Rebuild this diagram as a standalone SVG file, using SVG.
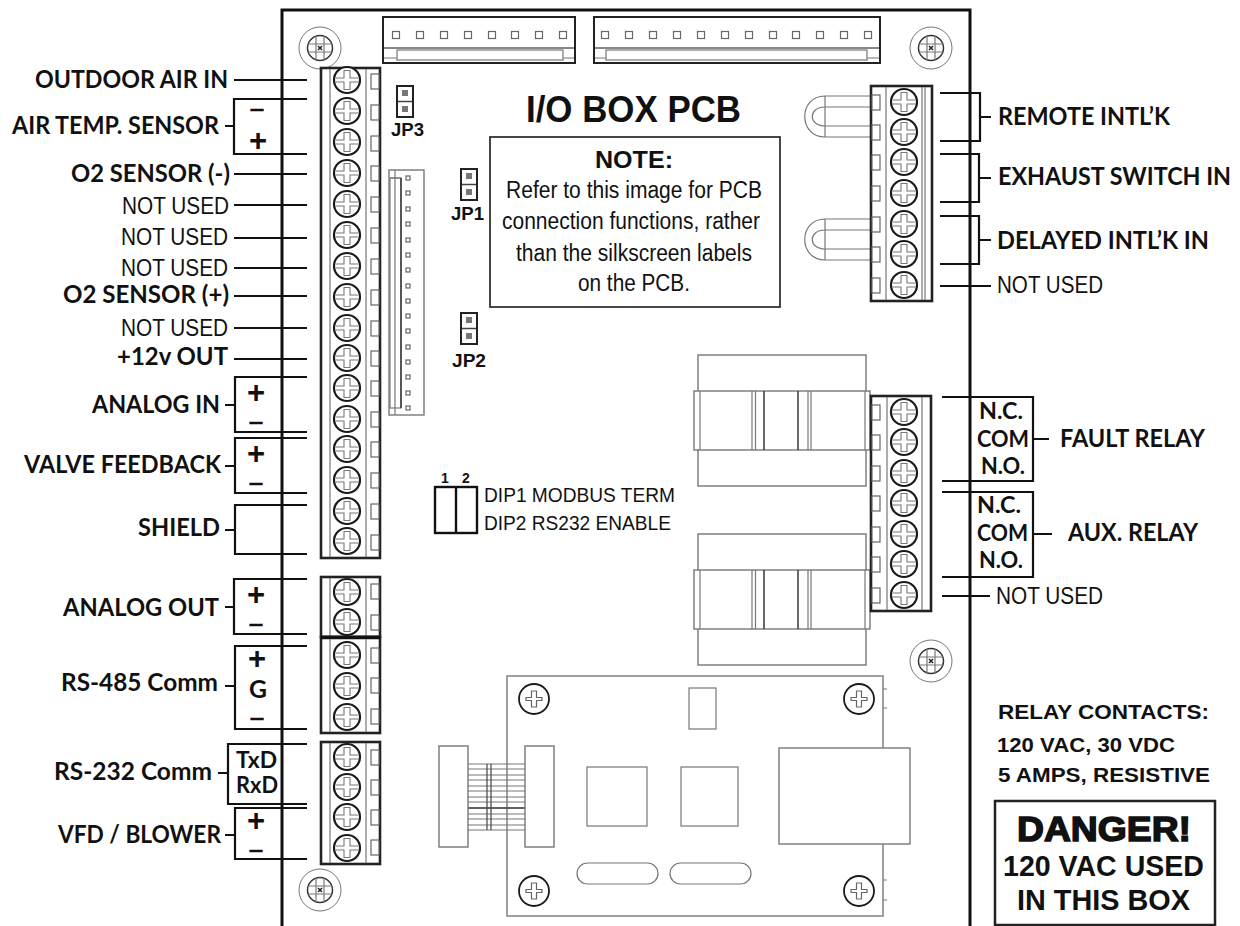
<svg xmlns="http://www.w3.org/2000/svg" width="1240" height="926" viewBox="0 0 1240 926">
<style>
text{fill:#111}
.b{font-family:Lato,"Open Sans",sans-serif;font-weight:700;font-size:24px}
.s{font-family:Lato,"Open Sans",sans-serif;font-weight:700;font-size:22px}
.r{font-family:"Liberation Sans",Arial,sans-serif;font-size:24.500px}
.h{font-family:"Liberation Sans",Arial,sans-serif;font-weight:700}
.n{font-family:"Liberation Sans",Arial,sans-serif;font-size:23px}
.d{font-family:"Liberation Sans",Arial,sans-serif;font-size:20.500px}
.pl{font-family:"Liberation Sans",Arial,sans-serif;font-weight:700;font-size:31px;text-anchor:middle}
.mi{font-family:"Liberation Sans",Arial,sans-serif;font-weight:700;font-size:20px;text-anchor:middle;stroke:#111;stroke-width:.6}
.g{fill:none;stroke:#777;stroke-width:1.2}
.gw{fill:#fff;stroke:#777;stroke-width:1.4}
.k{fill:none;stroke:#111;stroke-width:2.4}
.kw{fill:#fff;stroke:#222;stroke-width:2.6}
.thin{fill:#fff;stroke:#222;stroke-width:2}
.c{fill:none;stroke:#111;stroke-width:2.2}
.sm{fill:#fff;stroke:#666;stroke-width:1.2}
</style>
<defs>
<g id="screw"><circle r="13" fill="#fff" stroke="#1a1a1a" stroke-width="2.2"/><path d="M-11.500,-2H-3V-9.500H3V-2H11.500M-11.500,2H-3V9.500H3V2H11.500" fill="none" stroke="#777" stroke-width="1.100"/></g>
<g id="standoff"><circle r="21" fill="#fff" stroke="#777" stroke-width="1"/><circle r="12.500" fill="#fff" stroke="#333" stroke-width="1.500"/><path d="M-12,-4H12M-12,4H12M-4,-12V12M4,-12V12" class="g"/><path d="M-2,-2L2,2M2,-2L-2,2" stroke="#222" stroke-width="1.500"/></g>
<g id="bscrew"><circle r="15" fill="#fff" stroke="#1a1a1a" stroke-width="1.800"/><path d="M-8,-1.500H-2.500V-8H2.500V-1.500H8V1.500H2.500V8H-2.500V1.500H-8Z" fill="none" stroke="#666" stroke-width="1.200"/></g>
<rect id="pin" width="8" height="15" class="sm"/>
<rect id="dot" x="-3.500" y="-3.500" width="7" height="7" class="sm"/>
<rect id="vdot" x="-2" y="-2" width="4" height="4" class="sm"/>
<g id="jumper"><rect width="16" height="31" fill="#fff" stroke="#222" stroke-width="2"/><path d="M1,15.500H15" stroke="#444" stroke-width="1.500"/><rect x="5" y="4" width="6" height="6" fill="#777"/><rect x="5" y="20" width="6" height="6" fill="#777"/></g>
<path id="loop" d="M871,0H825C798,0 798,41 825,41H871M871,11H825C808,11 808,30 825,30H871M825,0V41" class="g"/>
<g id="relay"><rect x="698" y="0" width="168" height="131" class="gw"/><rect x="694" y="36" width="176" height="59" class="gw"/><path d="M700,36V95M752,36V95M755.500,36V95M808,36V95M811,36V95M865,36V95" class="g"/><path d="M764,36V95M798,36V95" fill="none" stroke="#444" stroke-width="1.600"/></g>
</defs>

<g id="board"><path d="M282,926V10H970V926" fill="none" stroke="#111" stroke-width="3"/></g>

<g id="standoffs">
<use href="#standoff" x="320" y="48"/><use href="#standoff" x="931" y="48"/><use href="#standoff" x="931" y="661"/><use href="#standoff" x="320" y="890"/>
</g>

<g id="connector-top-a">
<rect x="383" y="17" width="192" height="46" class="thin"/>
<path d="M384,48H574" stroke="#888" stroke-width="2"/>
<rect x="397" y="50" width="166" height="10" class="g"/>
<path d="M384,58H397M563,58H574" class="g"/>
<use href="#dot" x="396" y="35"/><use href="#dot" x="420" y="35"/><use href="#dot" x="444" y="35"/><use href="#dot" x="468" y="35"/><use href="#dot" x="492" y="35"/><use href="#dot" x="515" y="35"/><use href="#dot" x="539" y="35"/><use href="#dot" x="563" y="35"/>
</g>
<g id="connector-top-b">
<rect x="594" y="17" width="286" height="46" class="thin"/>
<path d="M595,48H879" stroke="#888" stroke-width="2"/>
<rect x="606" y="50" width="261" height="10" class="g"/>
<path d="M595,58H606M867,58H879" class="g"/>
<use href="#dot" x="605" y="35"/><use href="#dot" x="629" y="35"/><use href="#dot" x="653" y="35"/><use href="#dot" x="677" y="35"/><use href="#dot" x="701" y="35"/><use href="#dot" x="725" y="35"/><use href="#dot" x="749" y="35"/><use href="#dot" x="773" y="35"/><use href="#dot" x="796" y="35"/><use href="#dot" x="820" y="35"/><use href="#dot" x="844" y="35"/><use href="#dot" x="868" y="35"/>
</g>

<g id="connector-side">
<rect x="389" y="170" width="35" height="245" class="gw"/>
<rect x="390" y="178" width="11" height="230" class="g"/>
<path d="M395,170V415M390,178H401" class="g"/>
<path d="M401,178V408" stroke="#555" stroke-width="2"/>
<use href="#vdot" x="408" y="178"/><use href="#vdot" x="408" y="193"/><use href="#vdot" x="408" y="209"/><use href="#vdot" x="408" y="224"/><use href="#vdot" x="408" y="240"/><use href="#vdot" x="408" y="255"/><use href="#vdot" x="408" y="270"/><use href="#vdot" x="408" y="286"/><use href="#vdot" x="408" y="301"/><use href="#vdot" x="408" y="316"/><use href="#vdot" x="408" y="331"/><use href="#vdot" x="408" y="347"/><use href="#vdot" x="408" y="362"/><use href="#vdot" x="408" y="377"/><use href="#vdot" x="408" y="393"/><use href="#vdot" x="408" y="408"/>
</g>

<g id="terminal-left-1">
<rect x="321" y="68" width="59" height="490" class="kw"/>
<path d="M330,69V557M366,69V557" class="g"/>
<use href="#pin" x="371" y="74"/><use href="#pin" x="371" y="105"/><use href="#pin" x="371" y="136"/><use href="#pin" x="371" y="166"/><use href="#pin" x="371" y="197"/><use href="#pin" x="371" y="228"/><use href="#pin" x="371" y="259"/><use href="#pin" x="371" y="290"/><use href="#pin" x="371" y="321"/><use href="#pin" x="371" y="351"/><use href="#pin" x="371" y="381"/><use href="#pin" x="371" y="412"/><use href="#pin" x="371" y="442"/><use href="#pin" x="371" y="473"/><use href="#pin" x="371" y="504"/><use href="#pin" x="371" y="535"/>
<use href="#screw" x="347" y="80"/><use href="#screw" x="347" y="111"/><use href="#screw" x="347" y="142"/><use href="#screw" x="347" y="173"/><use href="#screw" x="347" y="204"/><use href="#screw" x="347" y="235"/><use href="#screw" x="347" y="266"/><use href="#screw" x="347" y="297"/><use href="#screw" x="347" y="328"/><use href="#screw" x="347" y="358"/><use href="#screw" x="347" y="388"/><use href="#screw" x="347" y="419"/><use href="#screw" x="347" y="449"/><use href="#screw" x="347" y="480"/><use href="#screw" x="347" y="511"/><use href="#screw" x="347" y="541"/>
</g>
<g id="terminal-left-2">
<rect x="321" y="577" width="59" height="60" class="kw"/>
<path d="M330,578V636M366,578V636" class="g"/>
<use href="#pin" x="371" y="584"/><use href="#pin" x="371" y="615"/>
<use href="#screw" x="347" y="592"/><use href="#screw" x="347" y="622"/>
</g>
<g id="terminal-left-3">
<rect x="321" y="637" width="59" height="96" class="kw"/>
<path d="M321,637.500H380" stroke="#111" stroke-width="3.500"/>
<path d="M330,639V732M366,639V732" class="g"/>
<use href="#pin" x="371" y="648"/><use href="#pin" x="371" y="678"/><use href="#pin" x="371" y="709"/>
<use href="#screw" x="347" y="655"/><use href="#screw" x="347" y="686"/><use href="#screw" x="347" y="717"/>
</g>
<g id="terminal-left-4">
<rect x="321" y="742" width="59" height="122" class="kw"/>
<path d="M330,743V863M366,743V863" class="g"/>
<use href="#pin" x="371" y="750"/><use href="#pin" x="371" y="780"/><use href="#pin" x="371" y="810"/><use href="#pin" x="371" y="840"/>
<use href="#screw" x="347" y="757"/><use href="#screw" x="347" y="787"/><use href="#screw" x="347" y="817"/><use href="#screw" x="347" y="848"/>
</g>

<g id="interlock-loops">
<use href="#loop" y="96"/><use href="#loop" y="219"/>
</g>
<g id="terminal-right-1">
<rect x="871" y="86" width="61" height="215" class="kw"/>
<path d="M886,87V300M922,87V300M925,87V300" class="g"/>
<use href="#pin" x="872" y="95"/><use href="#pin" x="872" y="125"/><use href="#pin" x="872" y="155"/><use href="#pin" x="872" y="186"/><use href="#pin" x="872" y="217"/><use href="#pin" x="872" y="247"/><use href="#pin" x="872" y="278"/>
<use href="#screw" x="904" y="102"/><use href="#screw" x="904" y="132"/><use href="#screw" x="904" y="162"/><use href="#screw" x="904" y="193"/><use href="#screw" x="904" y="224"/><use href="#screw" x="904" y="254"/><use href="#screw" x="904" y="285"/>
</g>

<g id="relay-1"><use href="#relay" y="355"/></g>
<g id="relay-2"><use href="#relay" y="534"/></g>
<g id="terminal-right-2">
<rect x="871" y="396" width="60" height="215" class="kw"/>
<path d="M887,397V610M922,397V610" class="g"/>
<use href="#pin" x="872" y="405"/><use href="#pin" x="872" y="435"/><use href="#pin" x="872" y="466"/><use href="#pin" x="872" y="496"/><use href="#pin" x="872" y="527"/><use href="#pin" x="872" y="557"/><use href="#pin" x="872" y="588"/>
<use href="#screw" x="904" y="412"/><use href="#screw" x="904" y="442"/><use href="#screw" x="904" y="473"/><use href="#screw" x="904" y="503"/><use href="#screw" x="904" y="534"/><use href="#screw" x="904" y="564"/><use href="#screw" x="904" y="595"/>
</g>

<g id="jp3"><use href="#jumper" x="397" y="86"/><text class="h" font-size="18" x="391" y="136" textLength="33" lengthAdjust="spacingAndGlyphs">JP3</text></g>
<g id="jp1"><use href="#jumper" x="461" y="169"/><text class="h" font-size="18" x="451" y="220" textLength="33" lengthAdjust="spacingAndGlyphs">JP1</text></g>
<g id="jp2"><use href="#jumper" x="461" y="313"/><text class="h" font-size="18" x="452" y="367" textLength="34" lengthAdjust="spacingAndGlyphs">JP2</text></g>

<g id="title"><text class="h" font-size="36" x="526" y="122" textLength="215" lengthAdjust="spacingAndGlyphs">I/O BOX PCB</text></g>
<g id="note">
<rect x="490" y="137" width="290" height="170" fill="#fff" stroke="#333" stroke-width="1.800"/>
<text class="h" font-size="23" x="595" y="168" textLength="78" lengthAdjust="spacingAndGlyphs">NOTE:</text>
<text class="n" x="506" y="198" textLength="256" lengthAdjust="spacingAndGlyphs">Refer to this image for PCB</text>
<text class="n" x="502" y="229" textLength="258" lengthAdjust="spacingAndGlyphs">connection functions, rather</text>
<text class="n" x="516" y="261" textLength="236" lengthAdjust="spacingAndGlyphs">than the silkscreen labels</text>
<text class="n" x="578" y="291" textLength="112" lengthAdjust="spacingAndGlyphs">on the PCB.</text>
</g>

<g id="dip">
<rect x="435" y="487" width="42" height="46" class="k"/><path d="M456,487V533" class="k"/>
<text class="h" font-size="14" x="445" y="483" text-anchor="middle">1</text>
<text class="h" font-size="14" x="466" y="483" text-anchor="middle">2</text>
<text class="d" x="484" y="502" textLength="191" lengthAdjust="spacingAndGlyphs">DIP1 MODBUS TERM</text>
<text class="d" x="484" y="530" textLength="187" lengthAdjust="spacingAndGlyphs">DIP2 RS232 ENABLE</text>
</g>

<g id="comm-board">
<rect x="507" y="676" width="376" height="240" class="gw"/>
<path d="M883,689H887M883,708H887M883,880H887M883,900H887" class="g"/>
<rect x="689" y="688" width="27" height="41" class="g"/>
<rect x="587" y="767" width="60" height="59" class="g"/>
<rect x="681" y="767" width="57" height="59" class="g"/>
<rect x="779" y="748" width="131" height="96" class="gw"/>
<rect x="577" y="863" width="81" height="21" rx="10.500" class="g"/>
<rect x="670" y="863" width="81" height="21" rx="10.500" class="g"/>
<path d="M468,764H525M468,769H525M468,775H525M468,780H525M468,786H525M468,791H525M468,797H525M468,802H525M468,808H525M468,814H525M468,819H525M468,825H525M468,830H525" class="g"/>
<path d="M468,808H525" stroke="#444" stroke-width="1.500"/>
<path d="M487,764V830M491,764V830" stroke="#444" stroke-width="1.200"/>
<rect x="439" y="746" width="29" height="101" class="gw"/>
<rect x="525" y="746" width="29" height="101" class="gw"/>
<use href="#bscrew" x="534" y="699"/><use href="#bscrew" x="859" y="699"/><use href="#bscrew" x="534" y="891"/><use href="#bscrew" x="859" y="891"/>
</g>

<g id="connectors">
<path class="c" d="M234,80H307M225,126H234M307,99H234V154H307M234,174H307M234,205H307M234,238H307M234,268H307M234,296H307M234,328H307M234,359H307"/>
<path class="c" d="M225,405H235M307,377H235V432H307M225,466H235M307,438H235V493H307M225,530H235M307,505H235V554H307M225,607H234M307,579H234V634H307"/>
<path class="c" d="M225,686H235M307,646H235V729H307M218,773H228M307,744H228V804H307M225,835H235M307,808H235V859H307"/>
<path class="c" d="M940,93H980V141H940M980,117H991M940,154H979V202H940M979,178H991M940,216H979V264H940M979,240H991M940,286H991"/>
<path class="c" d="M942,397H1033V481H942M1033,439H1049M942,492H1033V577H942M1033,534H1052M942,596H990"/>
</g>

<g id="labels-left">
<text class="b" x="35" y="88" textLength="193" lengthAdjust="spacingAndGlyphs">OUTDOOR AIR IN</text>
<text class="b" x="12" y="134" textLength="207" lengthAdjust="spacingAndGlyphs">AIR TEMP. SENSOR</text>
<text class="mi" x="257" y="115" textLength="14" lengthAdjust="spacingAndGlyphs">–</text><text class="pl" x="258" y="151">+</text>
<text class="b" x="71" y="182" textLength="159" lengthAdjust="spacingAndGlyphs">O2 SENSOR (-)</text>
<text class="r" x="122" y="214" textLength="107" lengthAdjust="spacingAndGlyphs">NOT USED</text>
<text class="r" x="121" y="245" textLength="107" lengthAdjust="spacingAndGlyphs">NOT USED</text>
<text class="r" x="121" y="276" textLength="107" lengthAdjust="spacingAndGlyphs">NOT USED</text>
<text class="b" x="63" y="303" textLength="166" lengthAdjust="spacingAndGlyphs">O2 SENSOR (+)</text>
<text class="r" x="121" y="336" textLength="107" lengthAdjust="spacingAndGlyphs">NOT USED</text>
<text class="b" x="117" y="365" textLength="111" lengthAdjust="spacingAndGlyphs">+12v OUT</text>
<text class="b" x="92" y="413" textLength="128" lengthAdjust="spacingAndGlyphs">ANALOG IN</text>
<text class="pl" x="256" y="403">+</text><text class="mi" x="256" y="428" textLength="14" lengthAdjust="spacingAndGlyphs">–</text>
<text class="b" x="24" y="473" textLength="197" lengthAdjust="spacingAndGlyphs">VALVE FEEDBACK</text>
<text class="pl" x="256" y="464">+</text><text class="mi" x="256" y="489" textLength="14" lengthAdjust="spacingAndGlyphs">–</text>
<text class="b" x="138" y="536" textLength="82" lengthAdjust="spacingAndGlyphs">SHIELD</text>
<text class="b" x="63" y="616" textLength="156" lengthAdjust="spacingAndGlyphs">ANALOG OUT</text>
<text class="pl" x="256" y="605">+</text><text class="mi" x="256" y="630" textLength="14" lengthAdjust="spacingAndGlyphs">–</text>
<text class="b" x="61" y="691" textLength="157" lengthAdjust="spacingAndGlyphs">RS-485 Comm</text>
<text class="pl" x="257" y="669">+</text><text class="mi" x="257" y="724" textLength="14" lengthAdjust="spacingAndGlyphs">–</text>
<text class="b" x="249" y="698" textLength="18" lengthAdjust="spacingAndGlyphs" style="font-size:25px">G</text>
<text class="b" x="54" y="780" textLength="158" lengthAdjust="spacingAndGlyphs">RS-232 Comm</text>
<text class="s" x="236" y="768" textLength="41" lengthAdjust="spacingAndGlyphs">TxD</text>
<text class="s" x="236" y="793" textLength="42" lengthAdjust="spacingAndGlyphs">RxD</text>
<text class="b" x="58" y="843" textLength="163" lengthAdjust="spacingAndGlyphs">VFD / BLOWER</text>
<text class="pl" x="256" y="831">+</text><text class="mi" x="256" y="856" textLength="14" lengthAdjust="spacingAndGlyphs">–</text>
</g>

<g id="labels-right">
<text class="b" x="998" y="125" textLength="172" lengthAdjust="spacingAndGlyphs">REMOTE INTL’K</text>
<text class="b" x="998" y="185" textLength="233" lengthAdjust="spacingAndGlyphs">EXHAUST SWITCH IN</text>
<text class="b" x="997" y="249" textLength="212" lengthAdjust="spacingAndGlyphs">DELAYED INTL’K IN</text>
<text class="r" x="997" y="293" textLength="106" lengthAdjust="spacingAndGlyphs">NOT USED</text>
<text class="b" x="1060" y="447" textLength="145" lengthAdjust="spacingAndGlyphs">FAULT RELAY</text>
<text class="b" x="1068" y="541" textLength="130" lengthAdjust="spacingAndGlyphs">AUX. RELAY</text>
<text class="r" x="996" y="604" textLength="107" lengthAdjust="spacingAndGlyphs">NOT USED</text>
<text class="s" x="979" y="419" textLength="44" lengthAdjust="spacingAndGlyphs">N.C.</text>
<text class="s" x="977" y="447" textLength="52" lengthAdjust="spacingAndGlyphs">COM</text>
<text class="s" x="981" y="474" textLength="44" lengthAdjust="spacingAndGlyphs">N.O.</text>
<text class="s" x="977" y="513" textLength="44" lengthAdjust="spacingAndGlyphs">N.C.</text>
<text class="s" x="977" y="541" textLength="51" lengthAdjust="spacingAndGlyphs">COM</text>
<text class="s" x="979" y="568" textLength="44" lengthAdjust="spacingAndGlyphs">N.O.</text>
</g>

<g id="relay-contacts">
<text class="h" font-size="21" x="998" y="719" textLength="211" lengthAdjust="spacingAndGlyphs">RELAY CONTACTS:</text>
<text class="h" font-size="21" x="997" y="752" textLength="178" lengthAdjust="spacingAndGlyphs">120 VAC, 30 VDC</text>
<text class="h" font-size="21" x="998" y="782" textLength="212" lengthAdjust="spacingAndGlyphs">5 AMPS, RESISTIVE</text>
</g>
<g id="danger">
<rect x="995" y="801" width="220" height="124" fill="#fff" stroke="#222" stroke-width="2.500"/>
<text class="h" font-size="35" x="1017" y="841" textLength="174" lengthAdjust="spacingAndGlyphs" stroke="#111" stroke-width="1.500">DANGER!</text>
<text class="h" font-size="29" x="1003" y="876" textLength="201" lengthAdjust="spacingAndGlyphs">120 VAC USED</text>
<text class="h" font-size="29" x="1017" y="910" textLength="173" lengthAdjust="spacingAndGlyphs">IN THIS BOX</text>
</g>
</svg>
